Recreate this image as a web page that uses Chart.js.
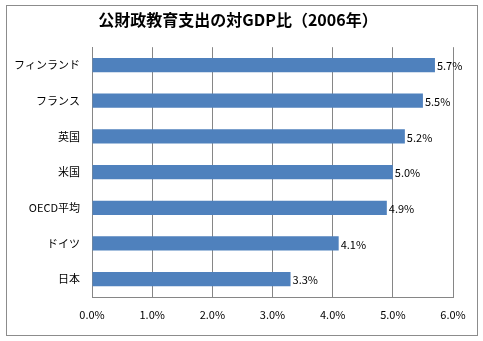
<!DOCTYPE html>
<html>
<head>
<meta charset="utf-8">
<script src="https://cdn.jsdelivr.net/npm/chart.js@4/dist/chart.umd.min.js"></script>
<style>
  html, body { margin: 0; padding: 0; background: #fff; }
  #wrap { width: 483px; height: 341px; position: relative; }
</style>
</head>
<body>
<div id="wrap"><canvas id="spend"></canvas></div>
<script>
const countries = ["フィンランド", "フランス", "英国", "米国", "OECD平均", "ドイツ", "日本"];
const gdpShare = [5.7, 5.5, 5.2, 5.0, 4.9, 4.1, 3.3];
const xTicks = [0, 1, 2, 3, 4, 5, 6];

const FONT = "'Noto Sans CJK JP', 'Noto Sans', sans-serif";
const GRID = '#868686';

// frame around the whole chart, and title centred on the frame
const frame = {
  id: 'frame',
  afterLayout(chart) {
    chart.titleBlock.left = 23;
  },
  beforeDraw(chart) {
    const ctx = chart.ctx;
    ctx.save();
    ctx.fillStyle = '#fff';
    ctx.fillRect(0, 0, chart.width, chart.height);
    ctx.strokeStyle = '#8c8c8c';
    ctx.lineWidth = 1;
    ctx.strokeRect(6.5, 5.5, 471, 330);
    ctx.restore();
  }
};

// value labels just past the end of each bar
const barValues = {
  id: 'barValues',
  afterDatasetsDraw(chart) {
    const ctx = chart.ctx;
    const meta = chart.getDatasetMeta(0);
    ctx.save();
    ctx.font = '11px ' + FONT;
    ctx.fillStyle = '#000';
    ctx.textAlign = 'left';
    ctx.textBaseline = 'middle';
    meta.data.forEach((bar, i) => {
      ctx.fillText(gdpShare[i].toFixed(1) + '%', bar.x + 2, bar.y + 1);
    });
    ctx.restore();
  }
};

new Chart(document.getElementById('spend').getContext('2d'), {
  type: 'bar',
  data: {
    labels: countries,
    datasets: [{
      data: gdpShare,
      backgroundColor: '#4f81bd',
      borderWidth: 0,
      barPercentage: 0.4,
      categoryPercentage: 1.0
    }]
  },
  options: {
    indexAxis: 'y',
    responsive: true,
    maintainAspectRatio: false,
    animation: false,
    layout: { padding: { left: 0, right: 30, top: 0, bottom: 0 } },
    scales: {
      x: {
        min: 0,
        max: 6,
        afterBuildTicks(scale) {
          scale.ticks = xTicks.map(v => ({ value: v }));
        },
        afterFit(scale) { scale.height = 44; },
        grid: { color: GRID, drawTicks: false },
        border: { color: GRID },
        ticks: {
          padding: 11,
          color: '#000',
          font: { family: FONT, size: 11 },
          callback: v => v.toFixed(1) + '%'
        }
      },
      y: {
        afterFit(scale) { scale.width = 92; },
        grid: { display: false, drawTicks: false },
        border: { color: GRID },
        ticks: {
          padding: 12,
          color: '#000',
          font: { family: FONT, size: 11 }
        }
      }
    },
    plugins: {
      legend: { display: false },
      tooltip: { enabled: false },
      title: {
        display: true,
        text: '公財政教育支出の対GDP比（2006年）',
        color: '#000',
        font: { family: FONT, size: 16, weight: 'bold', lineHeight: 1.2 },
        padding: { top: 10, bottom: 18 }
      }
    }
  },
  plugins: [frame, barValues]
});
</script>
</body>
</html>
